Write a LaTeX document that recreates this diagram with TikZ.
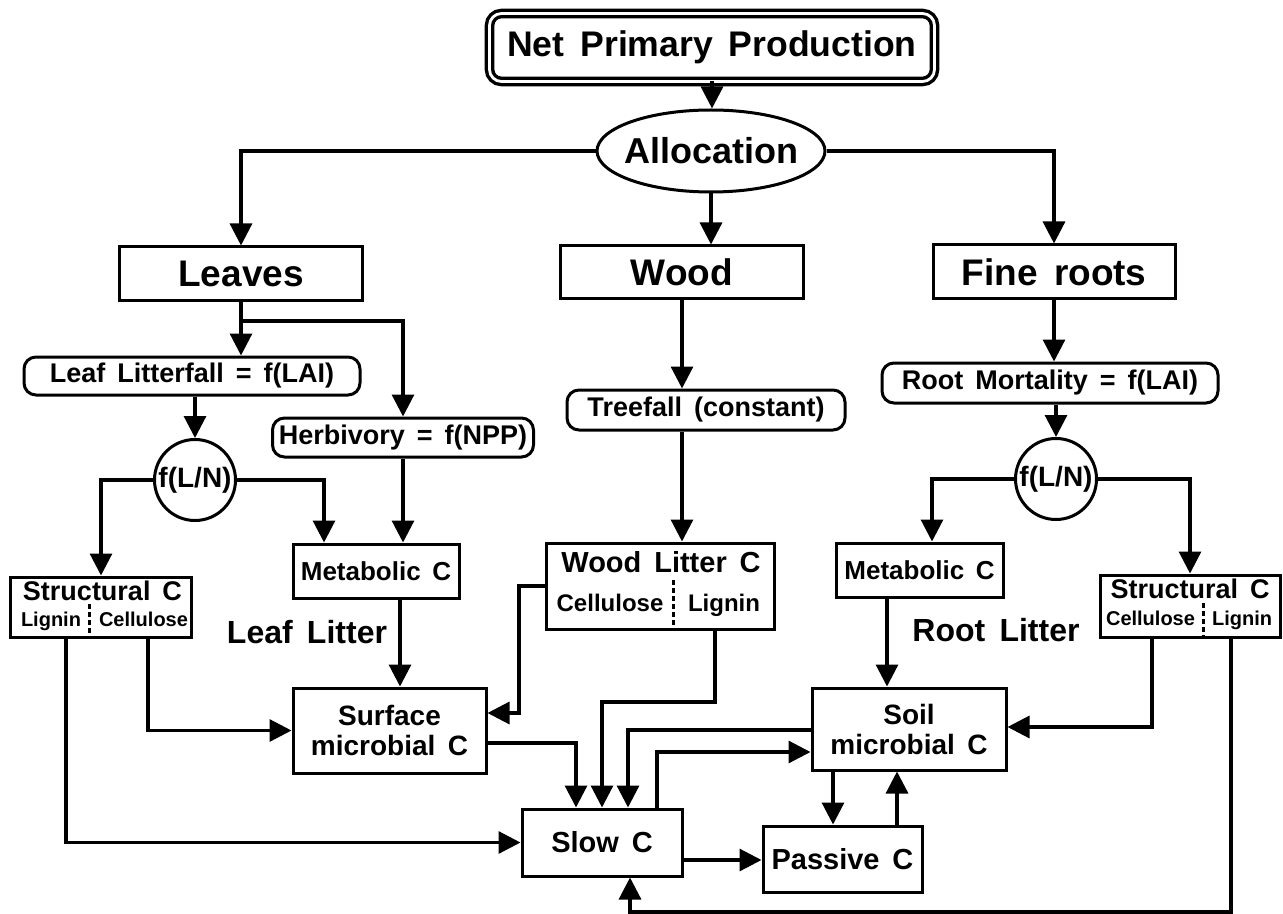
\documentclass[tikz,border=0pt]{standalone}
\usepackage{fontspec}
\setmainfont{Liberation Sans}[WordSpace=1.6]
\usetikzlibrary{arrows.meta,shapes.geometric,calc}
\begin{document}
\begin{tikzpicture}[x=0.5pt,y=-0.5pt,
  ln/.style={line width=1.6pt},
  arr/.style={line width=1.6pt,-{Triangle[width=11pt,length=11pt]}},
  box/.style={draw,line width=1.5pt,inner sep=0pt,align=center,font=\bfseries\fontsize{13.5}{15}\selectfont},
  rbox/.style={box,rounded corners=6pt},
  big/.style={font=\bfseries\fontsize{18.5}{20}\selectfont},
  sub/.style={inner sep=0pt,anchor=base,font=\bfseries\fontsize{10}{12}\selectfont},
  lbl/.style={inner sep=0pt,font=\bfseries\fontsize{16}{18}\selectfont},
  dotsep/.style={line width=1.5pt,dash pattern=on 2.5pt off 1.5pt}]
\useasboundingbox (0,0) rectangle (1283,914);
% nodes
\node[box,draw=none,minimum width=221pt,minimum height=32.5pt,font=\bfseries\fontsize{17.8}{20}\selectfont] (npp) at (712,47.5) {Net Primary Production};
\draw[line width=1.7pt,double,double distance=1.4pt,rounded corners=6pt] (npp.south west) rectangle (npp.north east);
\node[box,ellipse,inner xsep=-4pt,inner ysep=0pt,minimum width=114pt,minimum height=41pt,font=\bfseries\fontsize{18}{20}\selectfont] (alloc) at (711,151) {Allocation};
\node[box,big,minimum width=121.5pt,minimum height=27pt] (leaves) at (241,274) {Leaves};
\node[box,big,minimum width=121.5pt,minimum height=26.5pt] (wood) at (682,272.5) {Wood};
\node[box,big,minimum width=121pt,minimum height=27pt] (roots) at (1054,272) {Fine roots};
\node[rbox,minimum width=168pt,minimum height=19pt] (litterfall) at (192,376) {Leaf Litterfall = f(LAI)};
\node[rbox,minimum width=130.5pt,minimum height=19.5pt] (herb) at (403,437.5) {Herbivory = f(NPP)};
\node[rbox,minimum width=139pt,minimum height=20pt] (treefall) at (706,410) {Treefall (constant)};
\node[rbox,minimum width=168pt,minimum height=20pt] (mort) at (1050,383) {Root Mortality = f(LAI)};
\node[box,circle,minimum size=40.5pt,font=\bfseries\fontsize{14}{16}\selectfont] (lcirc) at (195,480) {f(L/N)};
\node[box,circle,minimum size=40.5pt,font=\bfseries\fontsize{14}{16}\selectfont] (rcirc) at (1056,479) {f(L/N)};
\node[box,minimum width=83pt,minimum height=27pt,font=\bfseries\fontsize{13}{15}\selectfont] (lmet) at (376,571) {Metabolic C};
\node[box,minimum width=83.5pt,minimum height=27pt,font=\bfseries\fontsize{13}{15}\selectfont] (rmet) at (919.5,570) {Metabolic C};
\node[box,minimum width=90.5pt,minimum height=30pt] (lstruct) at (101,607) {};
\node[box,minimum width=90pt,minimum height=31pt] (rstruct) at (1190,606) {};
\node[box,minimum width=114pt,minimum height=43pt] (wlit) at (660,586) {};
\node[box,minimum width=96.5pt,minimum height=42.5pt,font=\bfseries\fontsize{14}{15}\selectfont] (surf) at (389.5,730.5) {Surface\\microbial C};
\node[box,minimum width=97pt,minimum height=41pt,font=\bfseries\fontsize{14}{15}\selectfont] (soil) at (909,729) {Soil\\microbial C};
\node[box,minimum width=80pt,minimum height=33.5pt,font=\bfseries\fontsize{14.5}{16}\selectfont] (slow) at (602,842.5) {Slow C};
\node[box,minimum width=79.5pt,minimum height=33pt,font=\bfseries\fontsize{14.5}{16}\selectfont] (passive) at (842.5,859) {Passive C};
% inner texts of split boxes
\node[sub,font=\bfseries\fontsize{13.5}{15}\selectfont] (lsT) at (102.5,600) {Structural C};
\node[sub] (lsA) at (51,626) {Lignin};
\node[sub] (lsB) at (143.5,626) {Cellulose};
\draw[dotsep] (89,604) -- (89,636);
\node[sub,font=\bfseries\fontsize{13.5}{15}\selectfont] (rsT) at (1190,598) {Structural C};
\node[sub] (rsA) at (1150.5,625) {Cellulose};
\node[sub] (rsB) at (1242,625) {Lignin};
\draw[dotsep] (1203,603) -- (1203,636);
\node[sub,font=\bfseries\fontsize{14.5}{16}\selectfont] (wlT) at (661,572) {Wood Litter C};
\node[sub,font=\bfseries\fontsize{12}{14}\selectfont] (wlA) at (610,611) {Cellulose};
\node[sub,font=\bfseries\fontsize{12}{14}\selectfont] (wlB) at (724,611) {Lignin};
\draw[dotsep] (673,580) -- (673,628);
\node[lbl] (leaflit) at (307,632) {Leaf Litter};
\node[lbl] (rootlit) at (996,630) {Root Litter};
% helper coordinates
\coordinate (x66) at (66,0);
\coordinate (x148) at (148,0);
\coordinate (x324) at (324,0);
\coordinate (x400) at (400,0);
\coordinate (x519) at (519,0);
\coordinate (x576) at (576,0);
\coordinate (x602) at (602,0);
\coordinate (x628) at (628,0);
\coordinate (x630) at (630,0);
\coordinate (x657) at (657,0);
\coordinate (x715) at (715,0);
\coordinate (x833) at (833,0);
\coordinate (x887) at (887,0);
\coordinate (x897) at (897,0);
\coordinate (x932) at (932,0);
\coordinate (x1152) at (1152,0);
\coordinate (x1231) at (1231,0);
\coordinate (y321) at (0,321);
\coordinate (y702) at (0,702);
\coordinate (y713) at (0,713);
\coordinate (y727) at (0,727);
\coordinate (y730) at (0,730);
\coordinate (y743) at (0,743);
\coordinate (y752) at (0,752);
\coordinate (y860) at (0,860);
\coordinate (y912) at (0,912);
% connectors
\draw[arr] (npp.south) -- (npp.south |- alloc.north);
\draw[arr] (alloc.west) -| (leaves.north);
\draw[arr] (alloc.east) -| (roots.north);
\draw[arr] (alloc.south) -- (alloc.south |- wood.north);
\draw[arr] (leaves.south) -- (leaves.south |- litterfall.north);
\draw[arr] (leaves.south |- y321) -| (herb.north);
\draw[arr] (litterfall.south -| lcirc.north) -- (lcirc.north);
\draw[arr] (lcirc.west) -| (lstruct.north);
\draw[arr] (lcirc.east) -| (lmet.north -| x324);
\draw[arr] (herb.south) -- (herb.south |- lmet.north);
\draw[arr] (lmet.south -| x400) -- (surf.north -| x400);
\draw[arr] (lstruct.south -| x148) |- (surf.west);
\draw[arr] (lstruct.south -| x66) |- (slow.west);
\draw[arr] (wood.south) -- (wood.south |- treefall.north);
\draw[arr] (treefall.south -| wood.south) -- (wlit.north -| wood.south);
\draw[arr] (wlit.west) -| (x519 |- y713) -- (surf.east |- y713);
\draw[arr] (wlit.south -| x715) -- (x715 |- y702) -| (slow.north -| x602);
\draw[arr] (surf.east |- y743) -| (slow.north -| x576);
\draw[arr] (soil.west |- y730) -| (slow.north -| x628);
\draw[arr] (slow.north -| x657) |- (soil.west |- y752);
\draw[arr] (slow.east |- y860) -- (passive.west |- y860);
\draw[arr] (soil.south -| x833) -- (passive.north -| x833);
\draw[arr] (passive.north -| x897) -- (soil.south -| x897);
\draw[arr] (roots.south) -- (roots.south |- mort.north);
\draw[arr] (mort.south -| rcirc.north) -- (rcirc.north);
\draw[arr] (rcirc.west) -| (rmet.north -| x932);
\draw[arr] (rcirc.east) -| (rstruct.north);
\draw[arr] (rmet.south -| x887) -- (soil.north -| x887);
\draw[arr] (rstruct.south -| x1152) |- (soil.east |- y727);
\draw[arr] (rstruct.south -| x1231) -- (x1231 |- y912) -| (slow.south -| x630);
\end{tikzpicture}
\end{document}
